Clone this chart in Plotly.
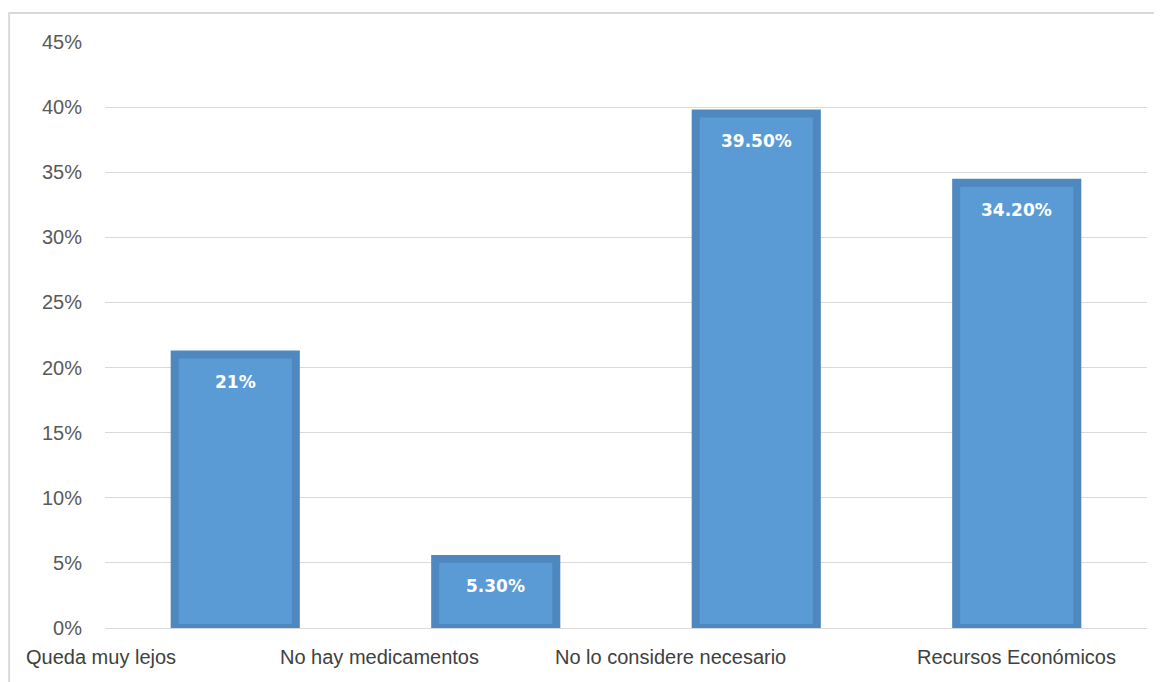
import plotly.graph_objects as go

# ── Data ─────────────────────────────────────────────
categories = ["Queda muy lejos", "No hay medicamentos",
              "No lo considere necesario", "Recursos Económicos"]
values = [21, 5.3, 39.5, 34.2]
value_labels = ["21%", "5.30%", "39.50%", "34.20%"]
y_ticks = [0, 5, 10, 15, 20, 25, 30, 35, 40, 45]

# horizontal offset (px) of each category label, as in the original
label_shift = [-134, -116, -86, 0]

fig = go.Figure()

fig.add_trace(go.Bar(
    x=categories,
    y=values,
    width=0.465,
    marker=dict(color="#5B9BD5", line=dict(color="#4F87BF", width=8)),
    hoverinfo="x+y",
))

annotations = []
for cat, v, lab in zip(categories, values, value_labels):
    annotations.append(dict(
        x=cat, y=v, xref="x", yref="y",
        text="<b>" + lab + "</b>", showarrow=False,
        yanchor="middle", yshift=-27,
        font=dict(color="white", size=17, family="DejaVu Sans"),
    ))
for cat, sh in zip(categories, label_shift):
    annotations.append(dict(
        x=cat, y=0, xref="x", yref="y",
        text=cat, showarrow=False,
        yanchor="middle", yshift=-29, xshift=sh,
        font=dict(color="#404040", size=20, family="Liberation Sans"),
    ))

fig.update_layout(
    width=1154, height=674,
    paper_bgcolor="white",
    plot_bgcolor="white",
    showlegend=False,
    margin=dict(l=97, r=15, t=34, b=54),
    annotations=annotations,
    shapes=[dict(
        type="rect", xref="paper", yref="paper",
        x0=-0.092, x1=1.0125, y0=-0.12, y1=1.0495,
        line=dict(color="#D9D9D9", width=2),
        layer="below",
    )],
)

fig.update_xaxes(range=[-0.5, 3.5], showticklabels=False, showgrid=False,
                 showline=False, zeroline=False)
fig.update_yaxes(
    range=[0, 45],
    tickvals=y_ticks,
    ticktext=[str(t) + "%" for t in y_ticks],
    tickfont=dict(color="#595959", size=20, family="Liberation Sans"),
    ticklabelstandoff=22,
    gridcolor="#D9D9D9",
    gridwidth=1,
    zeroline=True,
    zerolinecolor="#D9D9D9",
    zerolinewidth=1,
    showline=False,
)

fig.write_html("out.html")
